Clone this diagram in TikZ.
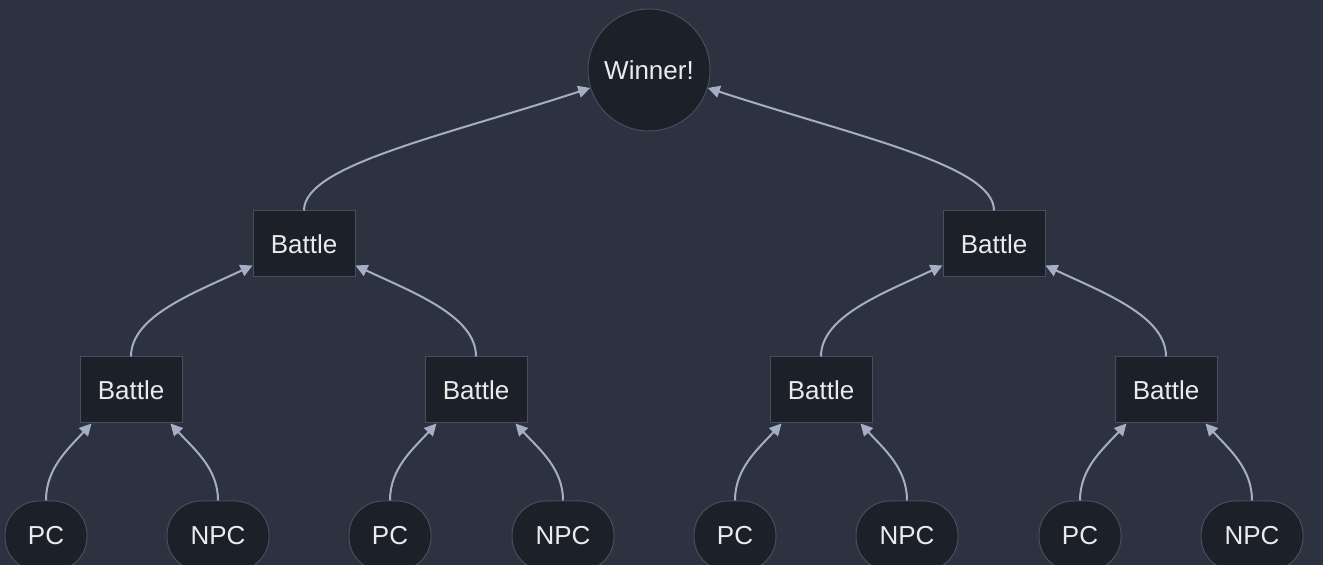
\documentclass[tikz,border=0pt]{standalone}
\usepackage{fontspec}
\setmainfont{Liberation Sans}
\usetikzlibrary{arrows.meta}
\definecolor{bgcol}{HTML}{2D3240}
\definecolor{boxfill}{HTML}{1C2029}
\definecolor{boxline}{HTML}{484E5E}
\definecolor{edgecol}{HTML}{A4AEC4}
\definecolor{txtcol}{HTML}{EBEBEB}
\tikzset{
  battle/.style={draw=boxline,fill=boxfill,line width=0.5pt,inner sep=0pt,
    minimum width=51pt,minimum height=33pt,text=txtcol,
    font=\fontsize{13}{15}\selectfont},
  player/.style={battle,rounded corners=17pt,minimum height=35pt},
  champ/.style={battle,circle,minimum size=61pt},
  edge/.style={draw=edgecol,line width=1pt,-{Triangle[length=6pt,width=6pt]}}
}
\begin{document}
\begin{tikzpicture}[x=0.5pt,y=0.5pt]
        \path[use as bounding box,fill=bgcol] (0,0) rectangle (1323,565);
        % final
        \node[champ] (win) at (649,495) {Winner!};
        % semi finals
        \node[battle] (b1) at (304,321) {Battle};
        \node[battle] (b2) at (994,321) {Battle};
        % first round
        \foreach \n/\x in {c1/131,c2/476,c3/821,c4/1166}
            \node[battle] (\n) at (\x,175) {Battle};
        % players
        \foreach \n/\x in {p1/46,p2/390,p3/735,p4/1080}
            \node[player,minimum width=41pt] (\n) at (\x,29) {PC};
        \foreach \n/\x in {q1/218,q2/563,q3/907,q4/1252}
            \node[player] (\n) at (\x,29) {NPC};
        % players into first round
        \foreach \p/\q/\c in {p1/q1/c1,p2/q2/c2,p3/q3/c3,p4/q4/c4}{
            \draw[edge] (\p.north) .. controls +(0,32) and +(-24,-26) .. ([xshift=6pt]\c.south west);
            \draw[edge] (\q.north) .. controls +(0,32) and +(24,-26) .. ([xshift=-6pt]\c.south east);
        }
        % first round into semi finals
        \draw[edge] (c1.north) .. controls +(0,40) and +(-60,-28) .. ([yshift=6pt]b1.south west);
        \draw[edge] (c2.north) .. controls +(0,40) and +(60,-28) .. ([yshift=6pt]b1.south east);
        \draw[edge] (c3.north) .. controls +(0,40) and +(-60,-28) .. ([yshift=6pt]b2.south west);
        \draw[edge] (c4.north) .. controls +(0,40) and +(60,-28) .. ([yshift=6pt]b2.south east);
        % semi finals into final
        \draw[edge] (b1.north) .. controls +(0,45) and +(-150,-49) .. (win.197);
        \draw[edge] (b2.north) .. controls +(0,45) and +(150,-49) .. (win.-17);
    \end{tikzpicture}
\end{document}
